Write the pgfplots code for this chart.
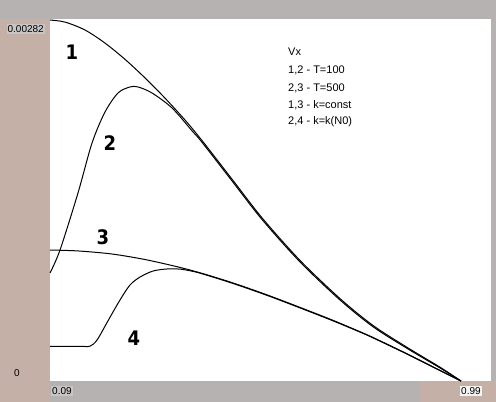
\documentclass[border=0pt]{standalone}
\usepackage{fontspec}
\setmainfont{Liberation Sans}
\newfontfamily\numfont{DejaVu Sans}
\usepackage{pgfplots}
\pgfplotsset{compat=1.18}

\definecolor{frametan}{RGB}{196,176,166}
\definecolor{framegray}{RGB}{182,178,177}
\definecolor{labelbg}{RGB}{200,198,197}

% Vx profiles (values in units of 1e-6)
\pgfplotstableread{
x       y
0.0900  2820
0.1228  2804
0.1666  2742
0.2104  2640
0.2542  2513
0.2980  2368
0.3418  2210
0.3856  2039
0.4228  1879
0.4907  1567
0.5542  1275
0.6375  942
0.7250  644
0.7973  434
0.8718  263
0.9440  108
0.9900  0
}\curveA
\pgfplotstableread{
x       y
0.0900  844
0.1119  1023
0.1513  1469
0.1820  1859
0.2104  2101
0.2389  2250
0.2652  2297
0.2827  2297
0.3134  2250
0.3572  2133
0.4009  1955
0.4228  1865
0.4907  1553
0.5542  1262
0.6375  930
0.7250  633
0.7973  424
0.8718  255
0.9440  102
0.9900  0
}\curveB
\pgfplotstableread{
x       y
0.0900  1023
0.1513  1016
0.2258  992
0.2980  949
0.3703  891
0.4228  841
0.4907  766
0.5652  673
0.6375  575
0.7097  474
0.7689  385
0.7973  340
0.8718  213
0.9440  83
0.9900  0
}\curveC
\pgfplotstableread{
x       y
0.0900  270
0.1601  270
0.1776  272
0.1930  320
0.2170  470
0.2433  633
0.2652  750
0.2871  812
0.3155  859
0.3462  875
0.3747  874
0.4009  858
0.4228  838
0.4907  762
0.5652  669
0.6375  571
0.7097  470
0.7689  382
0.7973  337
0.8718  210
0.9440  81
0.9900  0
}\curveD

\begin{document}
\begin{tikzpicture}[x=1pt,y=1pt]
% window frame and white plotting field
\fill[frametan] (0,0) rectangle (496,402);
\fill[framegray] (0,383) rectangle (496,402);
\fill[framegray] (50,0) rectangle (420,21);
\fill[framegray] (491,21) rectangle (496,383);
\fill[white] (50,21) rectangle (491,383);

\begin{axis}[
  at={(50pt,21pt)}, anchor=south west,
  scale only axis, width=441pt, height=362pt,
  xmin=0.09, xmax=1.0557, ymin=0, ymax=2828,
  axis lines=none, clip=false,
]
\addplot[black, line width=1pt, smooth, tension=0.5, mark=none] table[x=x,y=y] {\curveA};
\addplot[black, line width=1pt, smooth, tension=0.5, mark=none] table[x=x,y=y] {\curveB};
\addplot[black, line width=1pt, smooth, tension=0.5, mark=none] table[x=x,y=y] {\curveC};
\addplot[black, line width=1pt, smooth, tension=0.5, mark=none] table[x=x,y=y] {\curveD};
\end{axis}

% axis end values
\node[font=\fontsize{10}{11}\selectfont, fill=labelbg, inner sep=1pt, anchor=east] at (45,373) {0.00282};
\node[font=\fontsize{10}{11}\selectfont, inner sep=1pt] at (17,29) {0};
\node[font=\fontsize{10}{11}\selectfont, fill=labelbg, inner sep=1pt, anchor=west] at (51,11) {0.09};
\node[font=\fontsize{10}{11}\selectfont, fill=white!80!labelbg, inner sep=1pt, anchor=west] at (460,11) {0.99};

% curve numbers
\begin{scope}[every node/.style={font=\numfont\bfseries\fontsize{20}{20}\selectfont, xscale=0.9, inner sep=0pt}]
\node at (72,350) {1};
\node at (110,259) {2};
\node at (103,165) {3};
\node at (134,64) {4};
\end{scope}

% key
\begin{scope}[every node/.style={font=\fontsize{11}{12}\selectfont, anchor=west, inner sep=0pt}]
\node at (288,350) {Vx};
\node at (288,332) {1,2 - T=100};
\node at (288,314) {2,3 - T=500};
\node at (288,297) {1,3 - k=const};
\node at (288,280) {2,4 - k=k(N0)};
\end{scope}
\end{tikzpicture}
\end{document}
